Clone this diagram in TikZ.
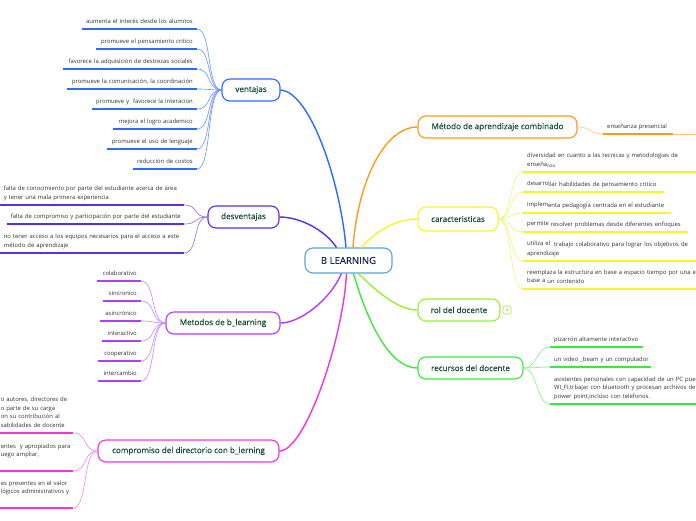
\documentclass[tikz,border=0pt]{standalone}
\usepackage{fontspec}
\setmainfont{Open Sans}
\newfontfamily\titlefont{Open Sans}[FakeBold=0.6]
\definecolor{vblue}{HTML}{2B6BFF}
\definecolor{vblueL}{HTML}{6A90FF}
\definecolor{dpurp}{HTML}{5B2BF0}
\definecolor{dpurpL}{HTML}{8A6AF5}
\definecolor{mpurp}{HTML}{B23CFF}
\definecolor{mpurpL}{HTML}{CC85FF}
\definecolor{cmag}{HTML}{F533DC}
\definecolor{cmagL}{HTML}{F785EA}
\definecolor{orng}{HTML}{FF9A1A}
\definecolor{orngL}{HTML}{FFC27A}
\definecolor{yel}{HTML}{F5F52A}
\definecolor{yelL}{HTML}{F2F27A}
\definecolor{lgrn}{HTML}{99F033}
\definecolor{grn}{HTML}{3DE83D}
\definecolor{grnL}{HTML}{85F085}
\definecolor{cblue}{HTML}{5BA3DB}
\definecolor{titlegreen}{HTML}{1D4D3C}
\definecolor{navy}{HTML}{1A2A4A}
\definecolor{leafgray}{HTML}{333333}
\begin{document}
\begin{tikzpicture}[x=1pt,y=-1pt,
 topic/.style={draw, rounded corners=8pt, fill=white, line width=1.1pt, inner sep=0pt,
   minimum height=22pt, font=\titlefont\fontsize{8.1}{9}\selectfont, text=titlegreen},
 leafL/.style={anchor=south east, align=right, inner xsep=4pt, inner ysep=3.5pt, text depth=2pt,
   font=\fontsize{5.9}{8.6}\selectfont, text=leafgray},
 leafR/.style={leafL, anchor=south west, align=left},
 two/.style={text depth=10.6pt},
 three/.style={text depth=19.2pt},
 four/.style={text depth=27.8pt},
 ul/.style={line width=2pt},
 lc/.style={line width=0.6pt},
 mc/.style={line width=1.4pt}
]
\useasboundingbox (0,0) rectangle (696,520);
\fill[white] (0,0) rectangle (696,520);

% main topics
\node[topic, draw=cblue, text=navy, minimum width=87pt, minimum height=25pt, font=\titlefont\fontsize{9.6}{10}\selectfont] (bl) at (348.5,260.5) {B LEARNING};
\node[topic, draw=vblue, minimum width=58pt] (ven) at (251,90) {ventajas};
\node[topic, draw=dpurp, minimum width=71pt] (des) at (243.5,217) {desventajas};
\node[topic, draw=mpurp, minimum width=114pt] (met) at (223,323) {Metodos de b\_learning};
\node[topic, draw=cmag, minimum width=181pt] (com) at (188.5,451) {compromiso del directorio con b\_lerning};
\node[topic, draw=orng, minimum width=159pt] (mac) at (497.5,127) {Método de aprendizaje combinado};
\node[topic, draw=yel, minimum width=80pt, minimum height=24pt] (car) at (458,219) {caracteristicas};
\node[topic, draw=lgrn, minimum width=82pt] (rol) at (459,310) {rol del docente};
\node[topic, draw=grn, minimum width=105pt] (rec) at (470.5,368) {recursos del docente};
\node[draw=lgrn, rounded corners=2pt, line width=0.6pt, minimum size=8pt, inner sep=0pt,
  font=\fontsize{4}{4}\selectfont, text=gray] (badge) at (507,310) {4};

% main connectors
\draw[mc, vblue] ([xshift=-2.5pt]bl.north) .. controls (340,180) and (310,92) .. (ven.east);
\draw[mc, dpurp] ([xshift=-12pt]bl.north) .. controls (325,230) and (300,217) .. (des.east);
\draw[mc, orng] ([xshift=4.5pt]bl.north) .. controls (358,180) and (385,127) .. (mac.west);
\draw[mc, yel] ([xshift=13pt]bl.north) .. controls (375,232) and (395,219) .. (car.west);
\draw[mc, mpurp] ([xshift=-7pt]bl.south) .. controls (330,300) and (300,323) .. (met.east);
\draw[mc, cmag] ([xshift=-2pt]bl.south) .. controls (343,340) and (305,451) .. (com.east);
\draw[mc, grn] ([xshift=5pt]bl.south) .. controls (370,330) and (392,368) .. (rec.west);
\draw[mc, lgrn] ([xshift=10pt]bl.south) .. controls (380,295) and (400,310) .. (rol.west);

% ventajas leaves
\node[leafL, text width=107pt] (v1) at (197,29) {aumenta el interés desde los alumnos};
\node[leafL, text width=93pt] (v2) at (197,49) {promueve el pensamiento critico};
\node[leafL, text width=126pt] (v3) at (197,69) {\mbox{favorece la adquisición de destrezas sociales}};
\node[leafL, text width=122pt] (v4) at (197,89) {\mbox{promueve la comunicación, la coordinación}};
\node[leafL, text width=97pt] (v5) at (197,109) {promueve y\ \ favorece la interacion};
\node[leafL, text width=76pt] (v6) at (197,129) {mejora el logro academico};
\node[leafL, text width=82pt] (v7) at (197,149) {promueve el uso de lenguaje};
\node[leafL, text width=56pt] (v8) at (197,169) {reducción de costos};
\foreach \n in {v1,v2,v3,v4,v5,v6,v7,v8}{
  \draw[ul, vblue] (\n.south west) -- (\n.south east);
  \draw[lc, vblueL] (ven.west) .. controls +(-15,0) and +(15,0) .. (\n.south east);
}

% desventajas leaves
\node[leafL, two, text width=176pt, align=left] (d1) at (184,205) {\mbox{falta de conocimiento por parte del estudiante acerca de área}\\\mbox{y tener una mala primera experiencia}};
\node[leafL, text width=169pt, align=left] (d2) at (184,224) {\mbox{falta de compromiso y participación por parte del estudiante}};
\node[leafL, two, text width=176pt, align=left] (d3) at (184,253) {\mbox{no tener acceso a los equipos necesarios para el acceso a este}\\\mbox{método de aprendizaje}};
\foreach \n in {d1,d2,d3}{
  \draw[ul, dpurp] (\n.south west) -- (\n.south east);
  \draw[lc, dpurpL] (des.west) .. controls +(-15,0) and +(15,0) .. (\n.south east);
}

% metodos leaves
\node[leafL, text width=36pt] (m1) at (141,281) {colaborativo};
\node[leafL, text width=30pt] (m2) at (141,301) {sincronico};
\node[leafL, text width=33pt] (m3) at (141,321) {asincrónico};
\node[leafL, text width=31pt] (m4) at (141,341) {interactivo};
\node[leafL, text width=35pt] (m5) at (141,361) {cooperativo};
\node[leafL, text width=35pt] (m6) at (141,381) {intercambio};
\foreach \n in {m1,m2,m3,m4,m5,m6}{
  \draw[ul, mpurp] (\n.south west) -- (\n.south east);
  \draw[lc, mpurpL] (met.west) .. controls +(-15,0) and +(15,0) .. (\n.south east);
}

% compromiso leaves
\node[leafL, four, text width=68pt, align=left] (k1) at (73,433) {\mbox{o autores, directores de}\\\mbox{o parte de su carga}\\\mbox{on su contribución al}\\\mbox{sabilidades de docente}};
\node[leafL, three, text width=68pt, align=left] (k2) at (73,471) {\mbox{entes\ \ y apropiados para}\\\mbox{uego ampliar,}\\\mbox{}};
\node[leafL, three, text width=68pt, align=left] (k3) at (73,508) {\mbox{es presentes en el valor}\\\mbox{lógicos administrativos y}\\\mbox{}};
\foreach \n in {k1,k2,k3}{
  \draw[ul, cmag] (\n.south west) -- (\n.south east);
  \draw[lc, cmagL] (com.west) .. controls +(-15,0) and +(15,0) .. (\n.south east);
}

% metodo combinado leaf
\node[leafR, text width=62pt] (e1) at (603,134) {enseñanza presencial};
\coordinate (eend) at (700,134);
\draw[ul, orng] (e1.south west) -- (e1.south east);
\draw[lc, orngL] (mac.east) .. controls +(14,0) and +(-14,0) .. (e1.south west);
\draw[lc, orngL] (e1.south east) -- (eend);

% caracteristicas leaves
\node[leafR, two, text width=175pt] (c1) at (523,172) {\mbox{diversidad en cuanto a las tecnicas y metodologias de}\\enseña\raisebox{-1pt}{\fontsize{4.8}{5}\selectfont nza}};
\node[leafR, text width=133pt] (c2) at (523,192) {\mbox{\raisebox{1pt}{desarro}llar habilidades de pensamiento critico}};
\node[leafR, text width=140pt] (c3) at (523,213) {\mbox{\raisebox{1pt}{implem}enta pedagogía centrada en el estudiante}};
\node[leafR, text width=157pt] (c4) at (523,232) {\mbox{\raisebox{1pt}{permite} resolver problemas desde diferentes enfoques}};
\node[leafR, two, text width=175pt] (c5) at (523,261) {\mbox{\raisebox{1pt}{utiliza el}\ \ trabajo colaborativo para lograr los objetivos de}\\aprendizaje};
\node[leafR, two, text width=175pt] (c6) at (523,289) {\mbox{reemplaza la estructura en base a espacio tiempo por una en}\\\raisebox{1pt}{base a} un contenido};
\foreach \n in {c1,c2,c3,c4,c5,c6}{
  \draw[ul, yel] (\n.south west) -- (\n.south east);
  \draw[lc, yelL] (car.east) .. controls +(14,0) and +(-14,0) .. (\n.south west);
}

% recursos leaves
\node[leafR, text width=85pt] (r1) at (550,347) {\mbox{pizarrón altamente interactivo}};
\node[leafR, text width=93pt] (r2) at (550,367) {\mbox{un video \_beam y un computador}};
\node[leafR, three, text width=147pt] (r3) at (550,404) {\mbox{asistentes personales con capacidad de un PC pueden}\\\mbox{WI\_FI,trbajar con bluetooth y procesan archivos de}\\\mbox{power point,incluso con telefonos.}};
\foreach \n in {r1,r2,r3}{
  \draw[ul, grn] (\n.south west) -- (\n.south east);
  \draw[lc, grnL] (rec.east) .. controls +(14,0) and +(-14,0) .. (\n.south west);
}
\end{tikzpicture}
\end{document}
